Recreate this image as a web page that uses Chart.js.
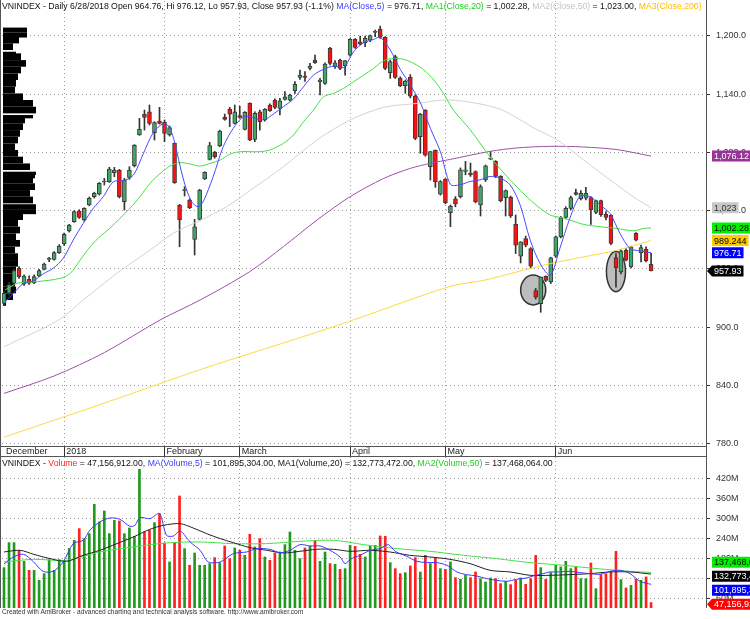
<!DOCTYPE html>
<html>
<head>
<meta charset="utf-8">
<script src="https://cdn.jsdelivr.net/npm/chart.js@4/dist/chart.umd.min.js"></script>
<style>
  body { margin: 0; background: #fff; width: 750px; height: 619px; overflow: hidden; position: relative;
         font-family: "Liberation Sans", Arial, sans-serif; }
  canvas { position: absolute; left: 0; }
  #price { top: 0; }
  #vol { top: 456px; }
  .hdr { position: absolute; left: 2px; white-space: nowrap; overflow: hidden; color: #111; z-index: 2; }
</style>
</head>
<body>
<canvas id="price" width="750" height="458"></canvas>
<canvas id="vol" width="750" height="163"></canvas>
<div class="hdr" id="priceTitle" style="top:1px; width:703px; font-size:8.7px"></div>
<div class="hdr" id="volTitle" style="top:458px; width:703px; font-size:8.7px"></div>
<div class="hdr" id="footer" style="top:608px; font-size:6.6px; color:#333">Created with AmiBroker - advanced charting and technical analysis software. http://www.amibroker.com</div>
<script>
// ---------- data ----------
const monthNames = ['December', '2018', 'February', 'March', 'April', 'May', 'Jun'];
const monthStart = [0, 12, 32, 47, 69, 88, 110];
const priceTicks = [780, 840, 900, 960, 1020, 1080, 1140, 1200];
const volTicks = [60, 120, 180, 240, 300, 360, 420];

const opens = [924.7,935,945.3,960.7,944.6,949.4,945.9,952.8,959.6,969.9,969.9,976.8,985.7,999.1,1008.7,1019.6,1010.4,1025.8,1034.4,1037.1,
  1049.5,1049.8,1059.1,1061.8,1029.2,1054.3,1066.3,1097.8,1119.1,1121.8,1100.2,1112.2,1110.9,1097.8,1089.2,1025.8,1040.6,1031,990.5,1011.1,
  1052.6,1072.8,1080,1086.5,1116,1124.2,1109.8,1117.7,1103.6,1130.4,1093.4,1121.8,1113.3,1128.7,1133.8,1125.2,1134.5,1133.8,1143.4,1157.1,
  1158.5,1166.4,1175,1152.7,1151,1187,1168.1,1175,1168.8,1180.1,1196.2,1193.8,1192.8,1195.5,1203.4,1206.9,1198.3,1161.9,1178.4,1156.1,
  1148.6,1157.1,1137.9,1096.1,1123.5,1065.2,1082.4,1037.1,1052.6,1017.9,1032.1,1034.5,1060.3,1058.6,1060.3,1025.9,1051.7,1073.1,1070.7,1055.2,
  1033.5,1033.8,1005.9,973.1,991.4,981,937.9,924.2,952.4,946.6,973.1,993.1,1013.1,1022.4,1038.6,1032.1,1032.8,1033.5,1018.3,1030.4,
  1016.2,1015.5,971.7,956.9,979.3,962.1,996.6,976.6,980.3,964.76];
const highs = [936.7,946,960,962.4,954,953,954,959.6,966,972,978,985,997,1006,1020,1021,1023,1034,1039,1049,
  1053.2,1064.6,1064.6,1062.5,1053.2,1065.2,1088,1115,1123.5,1128.7,1111.5,1126.3,1113.3,1107.1,1089.9,1026.5,1044.7,1032,1011.1,1042,
  1060,1090.3,1081,1102.9,1119.4,1126.3,1128.7,1127.6,1122,1131,1121.8,1123.5,1125,1130,1135,1135.5,1142.4,1140,1152.7,1164.7,
  1163,1171.5,1180.1,1156.1,1172,1188,1174.3,1176,1174.3,1197,1197,1199.7,1199.7,1200.7,1205.8,1209.9,1199,1175,1180,1157.8,
  1154.4,1160,1139,1120.1,1124,1081,1082.4,1051,1053,1025.9,1034.5,1064,1070.7,1069,1061,1046.6,1067,1081,1071.5,1056,
  1041.4,1035,1015.5,988,993.8,982,940,951.7,953,972,994,1014,1024,1035,1042.1,1040.7,1044.1,1034.5,1031,1031,
  1019,1016,975.9,980,981,983.5,997.5,984.5,982.8,976.12];
const lows = [923,933,944,950.4,943,944,945,952,959,967.5,969,976,984,998,1008,1012,1009,1025,1033,1036,
  1046.4,1049,1055,1033,1020.7,1052.2,1065,1097.5,1102.9,1108.1,1092.7,1109.1,1091,1096.8,1048.1,982.9,1035.1,1022,974.4,1010,
  1052,1072.1,1074,1085.8,1113,1106.4,1109.1,1115,1103,1092,1091,1102.9,1112,1122,1125,1118.4,1133.8,1133,1140.7,1155.1,
  1153,1164.7,1171.5,1139,1150,1170,1166.4,1165,1159.5,1179,1187,1190.4,1188.7,1193.8,1199,1197.2,1165,1156.1,1156,1147.5,
  1140.7,1136,1093,1079,1076,1051.5,1044,1036,1027,1003.5,1024,1033,1056.9,1055.2,1028,1014.5,1050,1072.4,1054,1029,
  1014.5,1013,975.9,966.2,982.8,961,929,915.5,947,945,972,992,1012,1021,1035.9,1031,1031,1005.9,1017,1014,
  1010.4,985,941.4,955,968.3,961,989,967.2,967.2,957.93];
const closes = [935,944,958.3,952.1,952.8,945.3,952.1,958.3,965.1,970.6,976.8,983.6,995.6,1005.2,1019,1013.1,1022.4,1032.7,1037.8,1048.1,
  1050.3,1062.8,1061.8,1034.4,1051.5,1061.8,1087.2,1104,1116,1109.8,1110.5,1109.8,1099.5,1105.4,1048.8,1010.4,1041.2,1023.1,1003.5,1041.2,
  1059.4,1086.9,1075.5,1101.9,1113.9,1119.4,1121.8,1116,1121.1,1092.7,1120.1,1111.5,1124.2,1122.9,1126.3,1133.1,1137.2,1139,1149.9,1159.5,
  1157.1,1168.8,1172.2,1154.4,1170.8,1171.5,1172.2,1166.4,1174.3,1196.2,1188,1191.4,1197.2,1200,1204.1,1198.3,1166.4,1173.3,1157.1,1148.6,
  1153.4,1137.9,1094.4,1119.4,1077.2,1080.7,1049.8,1049.8,1028.2,1024.8,1026.9,1062.1,1062.1,1056.9,1029.3,1044.8,1066.2,1073.6,1055.2,1030.4,
  1040.7,1014.5,984.5,987.9,984.5,962.8,931,951.7,948.3,971.4,993.1,1012.8,1022.4,1033.5,1036.6,1037.9,1037.9,1020.7,1030.4,1015.5,
  1013.1,986.2,961.4,978.6,969,982.8,989.7,982.1,968.3,957.93];
// volume in millions
const volumes = [152,227,227,204,171,144,144,114,134,176,144,176,174,209,234,269,239,254,342,289,
  322,254,294,292,254,271,246,447,259,264,287,314,226,169,227,367,209,159,196,159,
  159,164,182,167,217,179,211,204,189,252,214,239,184,174,196,199,221,259,204,179,
  211,216,234,171,199,164,162,147,149,219,216,192,184,216,219,247,246,167,149,134,
  137,157,182,139,189,164,182,149,147,169,122,117,129,122,139,119,109,121,119,104,
  111,101,114,121,102,119,189,152,117,137,159,154,171,149,154,119,119,166,89,131,
  134,141,201,116,91,99,117,114,124,47.156912];

// moving averages as [bar, value]
const ma5 = [[0.2,926.4],[1.9,935],[3.9,945.3],[5.9,948],[7.8,954.9],[9.8,960.7],[11.8,971],[13.8,989.8],[15.8,1006.9],[17.8,1022.4],
  [19.8,1034.4],[21.8,1049.8],[23.8,1050.8],[25.8,1056.7],[27.8,1079],[29.8,1100.6],[31.8,1109.8],[32.8,1107],[33.8,1094.4],[35.8,1051.5],
  [37.4,1029.2],[38.7,1024.1],[39.7,1029.2],[41.7,1055],[43.7,1085.8],[45.7,1104.7],[47.7,1116.7],[49,1116.7],[51.7,1113.3],[53.7,1119.4],
  [55.7,1127],[57.7,1134.8],[59.7,1147.5],[61.7,1159.5],[63.7,1165.4],[65.7,1168.8],[67.7,1167.4],[69.7,1183.5],[71.7,1192.8],[73.7,1196.2],
  [75,1198.3],[77,1185.3],[79,1165.4],[81,1149.3],[83,1131.1],[85,1104.7],[87,1080.7],[89,1047],[90.9,1046.6],[92.9,1050],
  [94.9,1051.7],[96.9,1055.2],[98.9,1053.5],[100.9,1046.6],[102.9,1025.9],[104.9,989.7],[106.9,965.5],[108.9,953.5],[110.8,981],[112.8,1012],
  [114.8,1034.5],[116.8,1034.5],[118.8,1025.9],[120.8,1017.2],[122.8,996.6],[124.8,981],[126.8,978.6],[129,976.71]];
const ma20 = [[0.2,938.4],[2.7,945.3],[6.7,947],[11.2,950.4],[13.2,955.5],[15.2,969.3],[17.2,983],[19.1,993.2],[21.1,1001.8],[23.1,1012.1],
  [25.1,1022.4],[27.1,1034.4],[29.1,1048.1],[31.1,1058],[33.1,1066],[35.1,1069.4],[37.1,1068],[39.1,1065.9],[41.1,1068.7],[43.1,1072.1],
  [45.1,1078.3],[47.1,1080.7],[49,1080.7],[51,1080.7],[53,1082.4],[55.7,1089.2],[57.7,1097.8],[59.7,1111.5],[61.7,1123.5],[63.7,1137.2],
  [65.7,1140.7],[67.7,1145.8],[69.7,1152.7],[71.7,1159.5],[73.7,1166.4],[75.7,1174.3],[77.7,1176.7],[79.7,1175.6],[81.7,1171.5],[83.7,1164.7],
  [85.7,1154.4],[87.6,1140.7],[89.6,1123.5],[92.9,1103.5],[97.1,1074.1],[100.9,1051.7],[104.9,1031],[106.9,1022.4],[108.9,1015.5],[110.8,1013.1],
  [112.8,1010.4],[115.5,1005.9],[118.8,1003.5],[122.2,1001.7],[124.1,1000],[125.8,999.3],[127.4,1001.7],[129,1002.28]];
const ma50 = [[0,880],[10.9,907.5],[15.8,928.1],[22.5,955.5],[29.1,979.5],[33.8,997],[39.1,1010],[44.4,1024.1],[49,1040.6],[55.7,1065.2],
  [62.4,1092.7],[69,1113.3],[75.7,1126.3],[82.4,1130.4],[87.6,1133.8],[92.3,1132.1],[99,1124.2],[106.2,1103.5],[110.2,1093.1],[115.5,1072.4],
  [120.8,1051.7],[125.4,1034.5],[129,1023]];
const ma100 = [[0,832],[10,850],[20,874],[31.1,907.5],[39.1,928.1],[49,957.3],[55.7,983],[62.4,1010.4],[69,1034.4],[75.7,1053.2],
  [81,1063.5],[85,1068.7],[89,1072.8],[96.9,1081],[102.2,1084.5],[108.9,1086.2],[115.5,1085.5],[122.2,1082.8],[129,1076.12]];
const ma200 = [[0,787],[20,822],[40,858],[60,891],[69.6,907.5],[88.9,942.1],[95.6,948.3],[102.2,956.9],[108.9,965.5],[115.5,972.4],
  [122.2,979.3],[129,989.244]];

const volMa5 = [[0,163],[1.9,184],[3.9,192],[5.9,169],[7.8,141],[9.8,141],[11.8,169],[13.8,224],[15.8,234],[17.1,264],[19.1,289],[21.1,301],
  [23.1,297],[25.1,276],[26.1,279],[27.1,302],[29.1,299],[31,314],[32.4,249],[33.8,247],[35.1,262],[37.1,229],[39.1,204],[40.7,169],
  [43.1,169],[45.7,194],[48.4,199],[50.4,209],[53,207],[55,197],[57,204],[59,221],[61,217],[63,217],[65,204],[67,184],[68,164],[69,177],
  [71,189],[73,204],[75,209],[76.6,221],[78,201],[80.3,186],[82.3,171],[84.3,167],[86.3,167],[88.3,159],[90.3,139],[92.2,131],[94.2,127],
  [96.2,119],[98.2,114],[100.2,111],[102.2,117],[104.2,121],[105.5,127],[107.5,134],[108.8,139],[110.8,139],[112.8,141],[114.8,137],
  [116.8,134],[118.8,132],[120.8,141],[122.8,144],[124.8,134],[126.8,111],[129,101.895304]];
const volMa20 = [[0,199],[3.2,204],[5.9,192],[9.2,179],[12.5,171],[15.8,189],[19.1,204],[22.5,224],[25.8,244],[29.1,267],[31.8,279],
  [35.1,284],[37.7,271],[40.4,254],[43.1,239],[45.7,227],[49,212],[52.4,204],[55.7,196],[59,201],[62.3,207],[65.7,207],[69,201],[73,204],
  [76.9,199],[80.9,189],[84.9,184],[88.9,177],[92.9,164],[96.9,144],[100.9,139],[104.9,129],[108.9,129],[112.8,131],[116.8,134],
  [120.8,139],[124.8,139],[129,132.773472]];
const volMa50 = [[0,169],[5.9,177],[12.5,174],[19.1,199],[25.8,214],[32.4,226],[39.1,229],[45.7,224],[52.4,224],[59,231],[65.7,234],
  [71.7,221],[78.4,209],[84.9,201],[91.6,189],[98.2,179],[104.9,167],[111.5,159],[118.2,149],[124.8,141],[129,137.468064]];

// volume-at-price profile on the left edge: price level, relative volume
const vpPrice = [1205.8,1200.7,1195.5,1188.7,1181.8,1178.4,1171.5,1164.7,1157.8,1151,1144.1,1137.2,1130.4,1123.5,1116.7,1113.3,
  1106.4,1099.5,1092.7,1085.8,1079,1072.1,1065.2,1058.4,1055,1051.5,1044.7,1037.8,1031,1024.1,1019,1013.8,1007,1000.1,993.2,
  986.4,979.5,972.7,965.8,959,952.1,945.3,938.4,931.5,924.7];
const vpVol = [72,72,48,30,39,54,69,54,45,39,36,60,90,99,90,66,60,51,45,36,45,60,81,99,96,90,96,81,90,99,99,60,45,51,39,51,36,45,45,39,30,36,39,30,9];

// circled spots: bar, price, half width (bars), half height (points)
const circled = [[105.5, 938.4, 2.5, 15.4], [122.0, 957.3, 1.9, 20.6]];

// ---------- helpers ----------
const last = a => a[a.length - 1][1];
const f2 = v => v.toLocaleString('en-US', { minimumFractionDigits: 2, maximumFractionDigits: 2 });
const fTrim = v => v.toLocaleString('en-US', { maximumFractionDigits: 3 });
const pts = a => a.map(p => ({ x: p[0], y: p[1] }));
const up = closes.map((c, i) => c >= opens[i]);
const FONT = '"Liberation Sans", Arial, sans-serif';

const n = closes.length - 1;
const pct = ((closes[n] / closes[n - 1] - 1) * 100).toFixed(1);
document.getElementById('priceTitle').innerHTML =
  `VNINDEX - Daily 6/28/2018 Open ${f2(opens[n])}, Hi ${f2(highs[n])}, Lo ${f2(lows[n])}, Close ${f2(closes[n])} (${pct}%) ` +
  `<span style="color:#3a3aff">MA(Close,5)</span> = ${f2(last(ma5))}, ` +
  `<span style="color:#22cc22">MA1(Close,20)</span> = ${f2(last(ma20))}, ` +
  `<span style="color:#c4c4c4">MA2(Close,50)</span> = ${f2(last(ma50))}, ` +
  `<span style="color:#ffbb00">MA3(Close,200)</span>`;
document.getElementById('volTitle').innerHTML =
  `VNINDEX - <span style="color:#ff2020">Volume</span> = ${f2(volumes[n] * 1e6)}, ` +
  `<span style="color:#3a3aff">MA(Volume,5)</span> = ${f2(last(volMa5) * 1e6)}, ` +
  `MA1(Volume,20) = ${f2(last(volMa20) * 1e6)}, ` +
  `<span style="color:#22cc22">MA2(Volume,50)</span> = ${f2(last(volMa50) * 1e6)}`;

function spreadBoxes(items, gap, yMax) {
  items.sort((a, b) => a.py - b.py);
  items.forEach(it => it.y = it.py);
  for (let k = 0; k < 40; k++) {
    for (let i = 1; i < items.length; i++) {
      const d = items[i].y - items[i - 1].y;
      if (d < gap) { const s = (gap - d) / 2; items[i].y += s; items[i - 1].y -= s; }
    }
  }
  if (yMax != null) {
    const over = items[items.length - 1].y - yMax;
    if (over > 0) items.forEach(it => it.y -= over);
  }
  return items;
}

function drawBox(ctx, x, y, text, bg, fg, arrow) {
  ctx.font = '9px ' + FONT;
  const w = ctx.measureText(text).width + 4, h = 11;
  ctx.fillStyle = bg;
  ctx.beginPath();
  if (arrow) {
    ctx.moveTo(x - 5, y); ctx.lineTo(x, y - h / 2); ctx.lineTo(x + w, y - h / 2);
    ctx.lineTo(x + w, y + h / 2); ctx.lineTo(x, y + h / 2); ctx.closePath();
  } else {
    ctx.rect(x, y - h / 2, w, h);
  }
  ctx.fill();
  ctx.fillStyle = fg;
  ctx.textAlign = 'left';
  ctx.textBaseline = 'middle';
  ctx.fillText(text, x + 2, y + 0.5);
}

function xScale(labels) {
  return {
    type: 'linear', position: 'bottom', min: -0.4, max: 139.95, offset: false,
    afterBuildTicks: s => { s.ticks = monthStart.map(v => ({ value: v })); },
    afterFit: s => { s.height = labels ? 12 : 11; s.paddingLeft = 0; s.paddingRight = 0; },
    grid: {
      color: c => (c.tick && c.tick.value === 0) ? 'rgba(0,0,0,0)' : '#9a9a9a',
      tickColor: c => (c.tick && c.tick.value === 0) ? 'rgba(0,0,0,0)' : '#333',
      drawTicks: labels, tickLength: 10, tickBorderDash: [], offset: false
    },
    border: { display: false, dash: [1, 3] },
    ticks: {
      display: labels, autoSkip: false, maxRotation: 0, align: 'start', labelOffset: 2, padding: -10,
      color: '#222', font: { size: 9, family: FONT },
      callback: v => monthNames[monthStart.indexOf(v)]
    }
  };
}

function yFit(s) { s.width = 44; s.paddingTop = 0; s.paddingBottom = 0; }

const line = (label, data, color) => ({
  type: 'line', label, data: pts(data), borderColor: color, borderWidth: 1,
  pointRadius: 0, tension: 0.3, order: 0
});

// ---------- price pane ----------
const pricePlugin = {
  id: 'pricePane',
  beforeDatasetsDraw(chart) {
    const { ctx, scales: { x, y }, chartArea } = chart;
    ctx.save();
    // volume at price
    ctx.fillStyle = '#000';
    const step = (vpPrice[0] - vpPrice[1]) / 2;
    vpPrice.forEach((p, i) => {
      const half = i < vpPrice.length - 1 ? (vpPrice[i] - vpPrice[i + 1]) / 2 : step;
      const y1 = y.getPixelForValue(p + half), y2 = y.getPixelForValue(p - half);
      ctx.fillRect(chartArea.left + 1, y1, vpVol[i] / 3, y2 - y1);
    });
    // circled spots
    circled.forEach(([b, p, hb, hp]) => {
      const cx = x.getPixelForValue(b), cy = y.getPixelForValue(p);
      const rx = x.getPixelForValue(b + hb) - cx, ry = cy - y.getPixelForValue(p + hp);
      ctx.beginPath();
      ctx.ellipse(cx, cy, rx, ry, 0, 0, Math.PI * 2);
      ctx.fillStyle = '#bdbdbd';
      ctx.fill();
      ctx.strokeStyle = '#333';
      ctx.lineWidth = 1.5;
      ctx.stroke();
    });
    ctx.restore();
  },
  afterDraw(chart) {
    const { ctx, scales: { y }, chartArea } = chart;
    ctx.save();
    ctx.strokeStyle = '#555';
    ctx.lineWidth = 1;
    ctx.beginPath();
    ctx.moveTo(chartArea.right + 0.5, 0); ctx.lineTo(chartArea.right + 0.5, chart.height);
    ctx.moveTo(0, chartArea.bottom + 0.5); ctx.lineTo(chartArea.right, chartArea.bottom + 0.5);
    ctx.moveTo(0.5, 0); ctx.lineTo(0.5, chart.height);
    ctx.stroke();
    const boxes = spreadBoxes([
      { py: y.getPixelForValue(last(ma100)), t: fTrim(last(ma100)), bg: '#993399', fg: '#fff' },
      { py: y.getPixelForValue(last(ma50)), t: fTrim(last(ma50)), bg: '#c8c8c8', fg: '#333' },
      { py: y.getPixelForValue(last(ma20)), t: fTrim(last(ma20)), bg: '#00f000', fg: '#000' },
      { py: y.getPixelForValue(last(ma200)), t: fTrim(last(ma200)), bg: '#ffcc00', fg: '#000' },
      { py: y.getPixelForValue(last(ma5)), t: fTrim(last(ma5)), bg: '#0000ff', fg: '#fff' },
      { py: y.getPixelForValue(closes[n]), t: fTrim(closes[n]), bg: '#000', fg: '#fff', arrow: true }
    ], 11.5);
    boxes.forEach(b => drawBox(ctx, chartArea.right + 6, b.y, b.t, b.bg, b.fg, b.arrow));
    ctx.restore();
  }
};

new Chart(document.getElementById('price'), {
  type: 'bar',
  data: {
    datasets: [
      line('MA5', ma5, '#4a4aff'),
      line('MA20', ma20, '#44e044'),
      line('MA50', ma50, '#d2d2d2'),
      line('MA100', ma100, '#a050a8'),
      line('MA200', ma200, '#ffd840'),
      {
        label: 'body', data: opens.map((o, i) => ({ x: i, y: [o, closes[i]] })),
        backgroundColor: up.map(u => u ? '#3fa866' : '#ff1010'), borderColor: '#3a3a3a', borderWidth: 1,
        borderSkipped: false, barThickness: 4, minBarLength: 1, grouped: false, order: 5
      },
      {
        label: 'wick', data: lows.map((l, i) => ({ x: i, y: [l, highs[i]] })),
        backgroundColor: '#333', barThickness: 1, grouped: false, order: 6
      }
    ]
  },
  options: {
    responsive: false, animation: false, devicePixelRatio: 1, events: [],
    layout: { padding: { top: 1, left: 2, right: 0, bottom: 0 } },
    plugins: { legend: { display: false }, tooltip: { enabled: false } },
    scales: {
      x: xScale(true),
      y: {
        position: 'right', min: 777.9, max: 1235.7,
        afterBuildTicks: s => { s.ticks = priceTicks.map(v => ({ value: v })); },
        afterFit: yFit,
        ticks: {
          color: '#333', padding: 6, font: { size: 9, family: FONT },
          callback: v => v.toLocaleString('en-US', { minimumFractionDigits: 1, maximumFractionDigits: 1 })
        },
        grid: { color: '#9a9a9a', tickColor: '#333', tickLength: 4, tickBorderDash: [] },
        border: { display: false, dash: [1, 3] }
      }
    }
  },
  plugins: [pricePlugin]
});

// ---------- volume pane ----------
const volPlugin = {
  id: 'volPane',
  afterDraw(chart) {
    const { ctx, scales: { y }, chartArea } = chart;
    ctx.save();
    ctx.strokeStyle = '#555';
    ctx.lineWidth = 1;
    ctx.beginPath();
    ctx.moveTo(chartArea.right + 0.5, 0); ctx.lineTo(chartArea.right + 0.5, chartArea.bottom);
    ctx.moveTo(0, 0.5); ctx.lineTo(chartArea.right, 0.5);
    ctx.moveTo(0.5, 0); ctx.lineTo(0.5, chartArea.bottom);
    ctx.stroke();
    const fmt = v => Math.round(v * 1e6).toLocaleString('en-US');
    const boxes = spreadBoxes([
      { py: y.getPixelForValue(last(volMa50)), t: fmt(last(volMa50)), bg: '#00f000', fg: '#000' },
      { py: y.getPixelForValue(last(volMa20)), t: fmt(last(volMa20)), bg: '#000', fg: '#fff' },
      { py: y.getPixelForValue(last(volMa5)), t: fmt(last(volMa5)), bg: '#0000ff', fg: '#fff' },
      { py: y.getPixelForValue(volumes[n]), t: fmt(volumes[n]), bg: '#ff0000', fg: '#fff', arrow: true }
    ], 14, chartArea.bottom - 1);
    boxes.forEach(b => drawBox(ctx, chartArea.right + 6, b.y, b.t, b.bg, b.fg, b.arrow));
    ctx.restore();
  }
};

new Chart(document.getElementById('vol'), {
  type: 'bar',
  data: {
    datasets: [
      line('VMA5', volMa5, '#3a3aff'),
      line('VMA20', volMa20, '#222'),
      line('VMA50', volMa50, '#44e044'),
      {
        label: 'Volume', data: volumes.map((v, i) => ({ x: i, y: v })),
        backgroundColor: up.map(u => u ? '#1f9a1f' : '#ff2020'), barThickness: 2, grouped: false, order: 5
      }
    ]
  },
  options: {
    responsive: false, animation: false, devicePixelRatio: 1, events: [],
    layout: { padding: { top: 1, left: 2, right: 0, bottom: 0 } },
    plugins: { legend: { display: false }, tooltip: { enabled: false } },
    scales: {
      x: xScale(false),
      y: {
        position: 'right', min: 30.9, max: 483.9,
        afterBuildTicks: s => { s.ticks = volTicks.map(v => ({ value: v })); },
        afterFit: yFit,
        ticks: { color: '#333', padding: 6, font: { size: 9, family: FONT }, callback: v => v + 'M' },
        grid: { color: '#9a9a9a', tickColor: '#333', tickLength: 4, tickBorderDash: [] },
        border: { display: false, dash: [1, 3] }
      }
    }
  },
  plugins: [volPlugin]
});
</script>
</body>
</html>
